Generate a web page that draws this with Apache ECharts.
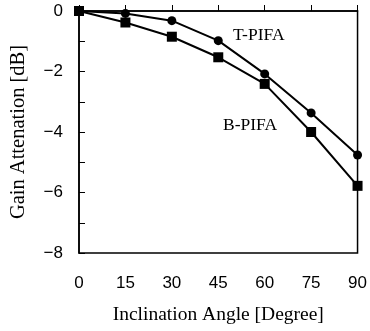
<!DOCTYPE html>
<html><head><meta charset="utf-8">
<script src="https://cdn.jsdelivr.net/npm/echarts@6/dist/echarts.min.js"></script>
<style>html,body{margin:0;padding:0;background:#fff}#c{width:370px;height:331px}</style>
</head><body><div id="c"></div>
<script>
const angles = [0, 15, 30, 45, 60, 75, 90];
const tPifa = [0, -0.08, -0.32, -0.98, -2.08, -3.37, -4.76];
const bPifa = [0, -0.38, -0.85, -1.53, -2.41, -4.0, -5.78];
const xTicks = [0, 15, 30, 45, 60, 75, 90];
const yTicks = [0, -2, -4, -6, -8];

const chart = echarts.init(document.getElementById('c'), null, {renderer: 'canvas'});
const pair = (ys) => angles.map((a, i) => [a, ys[i]]);
chart.setOption({
  animation: false,
  backgroundColor: '#fff',
  grid: {left: 79, right: 11, top: 11, bottom: 78, show: true, borderColor: '#000', borderWidth: 1.5},
  xAxis: {
    type: 'value', min: 0, max: 90, interval: 15,
    name: 'Inclination Angle [Degree]', nameLocation: 'middle', nameGap: 52,
    nameTextStyle: {fontFamily: 'Liberation Serif', fontSize: 19.5, color: '#000'},
    axisLine: {lineStyle: {color: '#000', width: 1.5}},
    axisTick: {inside: true, length: 6, lineStyle: {color: '#000'}},
    splitLine: {show: false},
    axisLabel: {margin: 22, fontFamily: 'Liberation Sans', fontSize: 17, color: '#000',
      formatter: v => xTicks.includes(v) ? String(v) : ''}
  },
  yAxis: {
    type: 'value', min: -8, max: 0, interval: 1,
    name: 'Gain Attenation [dB]', nameLocation: 'middle', nameGap: 50,
    nameTextStyle: {fontFamily: 'Liberation Serif', fontSize: 20.5, color: '#000'},
    axisLine: {lineStyle: {color: '#000', width: 1.5}},
    axisTick: {inside: true, length: 6, lineStyle: {color: '#000'}},
    splitLine: {show: false},
    axisLabel: {margin: 16, fontFamily: 'Liberation Sans', fontSize: 17, color: '#000',
      formatter: v => yTicks.includes(v) ? String(v).replace('-', '\u2212') : ''}
  },
  graphic: [
    {type: 'text', left: 233, top: 26, style: {text: 'T-PIFA', font: '17.5px "Liberation Serif"', fill: '#000'}},
    {type: 'text', left: 223, top: 116, style: {text: 'B-PIFA', font: '17.5px "Liberation Serif"', fill: '#000'}}
  ],
  series: [
    {name: 'T-PIFA', type: 'line', data: pair(tPifa), symbol: 'circle', symbolSize: 9,
      lineStyle: {color: '#000', width: 2}, itemStyle: {color: '#000'}},
    {name: 'B-PIFA', type: 'line', data: pair(bPifa), symbol: 'rect', symbolSize: 10,
      lineStyle: {color: '#000', width: 2}, itemStyle: {color: '#000'}}
  ]
});
</script></body></html>
